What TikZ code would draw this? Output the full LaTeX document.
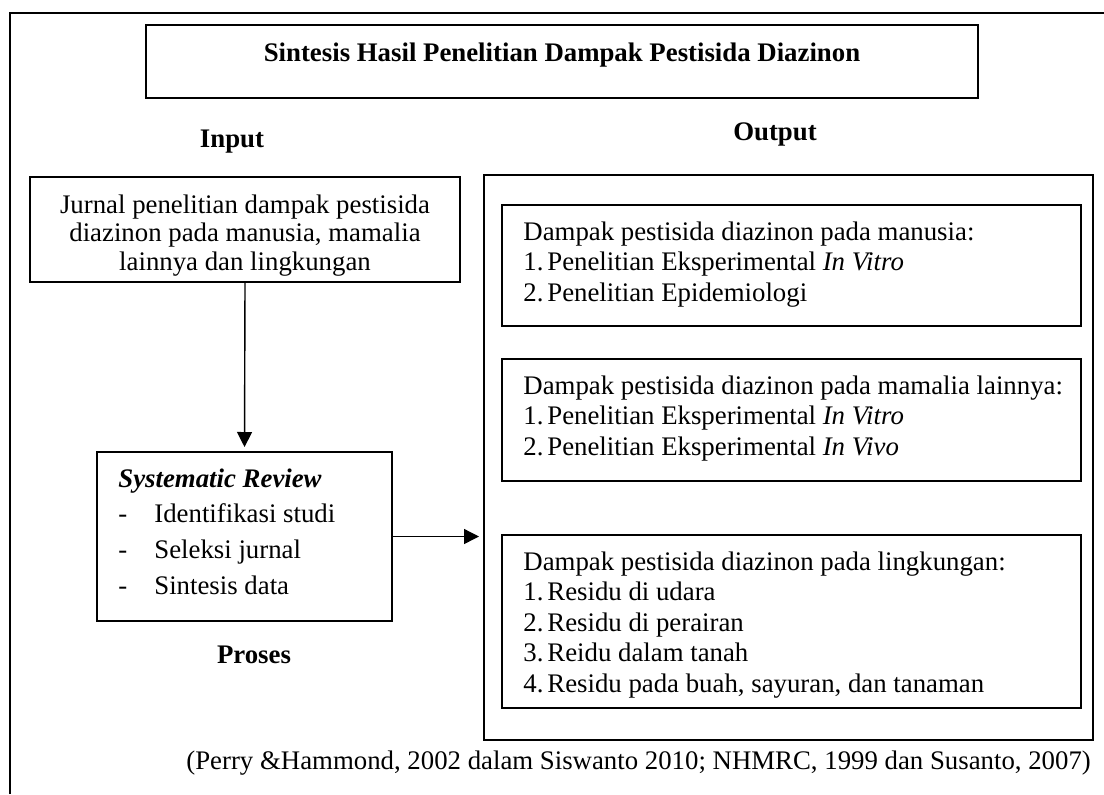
\documentclass[tikz,border=0pt]{standalone}
\usepackage{fontspec}
\setmainfont{Liberation Serif}
\usetikzlibrary{arrows.meta}

\tikzset{
  kotak/.style={draw, line width=1pt, inner sep=0pt},
  isi/.style={font=\fontsize{13.4}{15.25}\selectfont, align=left, anchor=base west, inner sep=0pt},
  label/.style={font=\fontsize{13.4}{15}\selectfont\bfseries, anchor=base, inner sep=0pt},
  panah/.style={-{Triangle[length=7.5pt,width=7.5pt]}, line width=0.7pt, shorten >=2pt}
}
\newcommand{\nomor}[1]{\makebox[12pt][l]{#1}}
\newcommand{\strip}{\makebox[18pt][l]{-}}

\begin{document}
\begin{tikzpicture}[x=0.5pt,y=-0.5pt]
    \useasboundingbox (0,0) rectangle (1104,794);

    % bingkai luar
    \draw[line width=1pt] (10,794) -- (10,12.7) -- (1104,12.7);

    % judul
    \node[kotak, minimum width=416pt, minimum height=36.5pt] (judul) at (562,61) {};
    \node[label] (judultext) at (562,61.7) {Sintesis Hasil Penelitian Dampak Pestisida Diazinon};

    \node[label] (input) at (232,147) {Input};
    \node[label] (output) at (775,140) {Output};
    \node[label] (proses) at (254,663) {Proses};

    % input (base = baseline of last line)
    \node[kotak, minimum width=215pt, minimum height=52.5pt] (jurnal) at (245,229.5) {};
    \node[isi, align=center, anchor=base, font=\fontsize{13.4}{14.25}\selectfont] (jurnaltext) at (245,270)
        {Jurnal penelitian dampak pestisida\\diazinon pada manusia, mamalia\\lainnya dan lingkungan};

    % proses
    \node[kotak, minimum width=147.5pt, minimum height=84.5pt] (review) at (244.5,536.5) {};
    \node[isi, font=\fontsize{13.4}{17.9}\selectfont] (reviewtext) at (118,594.5)
        {\textbf{\textit{Systematic Review}}\\
         \strip Identifikasi studi\\
         \strip Seleksi jurnal\\
         \strip Sintesis data};

    % output
    \node[kotak, minimum width=304.5pt, minimum height=282.5pt] (luaran) at (788.5,457.5) {};

    \node[kotak, minimum width=289.5pt, minimum height=60.5pt] (manusia) at (791.5,265.5) {};
    \node[isi] (manusiatext) at (523,301)
        {Dampak pestisida diazinon pada manusia:\\
         \nomor{1.}Penelitian Eksperimental \textit{In Vitro}\\
         \nomor{2.}Penelitian Epidemiologi};

    \node[kotak, minimum width=289.5pt, minimum height=61pt] (mamalia) at (791.5,420) {};
    \node[isi] (mamaliatext) at (523,455)
        {Dampak pestisida diazinon pada mamalia lainnya:\\
         \nomor{1.}Penelitian Eksperimental \textit{In Vitro}\\
         \nomor{2.}Penelitian Eksperimental \textit{In Vivo}};

    \node[kotak, minimum width=289.5pt, minimum height=86.5pt] (lingkungan) at (791.5,621.5) {};
    \node[isi] (lingkungantext) at (523,692)
        {Dampak pestisida diazinon pada lingkungan:\\
         \nomor{1.}Residu di udara\\
         \nomor{2.}Residu di perairan\\
         \nomor{3.}Reidu dalam tanah\\
         \nomor{4.}Residu pada buah, sayuran, dan tanaman};

    % sumber
    \node[isi] (sumber) at (186,769)
        {(Perry \&Hammond, 2002 dalam Siswanto 2010; NHMRC, 1999 dan Susanto, 2007)};

    \draw[panah] (jurnal.south) -- (review.north);
    \draw[panah] (review.east) -- (review.east -| luaran.west);

\end{tikzpicture}
\end{document}
